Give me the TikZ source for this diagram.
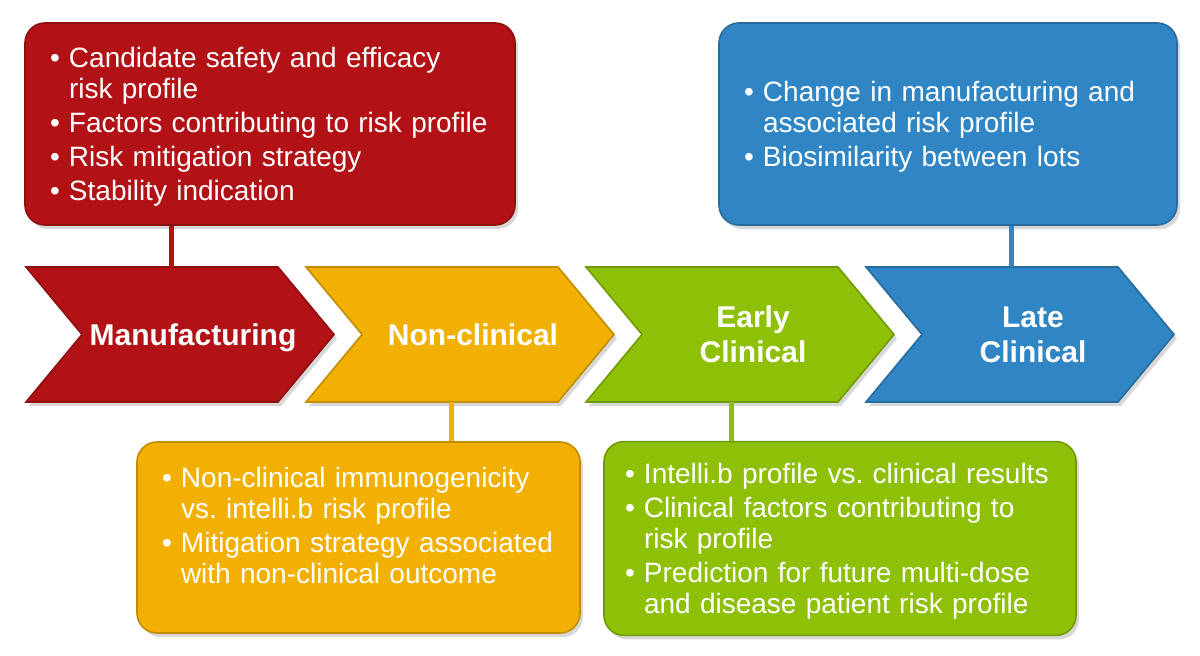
\documentclass[tikz,border=0pt]{standalone}
\usepackage{fontspec}
\setmainfont{Liberation Sans}
\usetikzlibrary{shadows}
\definecolor{mfgred}{RGB}{178,18,22}
\definecolor{ncyellow}{RGB}{241,176,2}
\definecolor{ecgreen}{RGB}{142,192,8}
\definecolor{lcblue}{RGB}{48,134,196}
\newcommand{\bulitem}[1]{\par\raggedright\frenchspacing\hyphenpenalty=10000\hangindent=9.5pt\hangafter=1\noindent\makebox[9.5pt][l]{\textbullet}#1\par}

\begin{document}
\begin{tikzpicture}[x=0.5pt,y=0.5pt,
  soft shadow/.style={drop shadow={shadow xshift=1.5pt,shadow yshift=-2pt,opacity=0.3}},
  chevron/.style={line width=0.8pt,draw=#1!80!black,fill=#1,soft shadow},
  stagelabel/.style={text=white,align=center,text depth=0pt,font=\fontsize{15}{17.5}\selectfont\bfseries},
  infobox/.style={rectangle,rounded corners=10pt,line width=0.8pt,draw=#1!80!black,fill=#1,
    soft shadow,text=white,align=left,inner xsep=12.5pt,inner ysep=4pt,
    font=\fontsize{14}{15.5}\selectfont\setlength{\parskip}{1.5pt}},
  link/.style={line width=2.5pt,draw=#1}]
  \useasboundingbox[fill=white] (0,0) rectangle (1200,655);
  \foreach \s/\col/\nm/\txt in {26/mfgred/mfg/Manufacturing, 306/ncyellow/nonclin/Non-clinical,
      586/ecgreen/early/{Early\\Clinical}, 866/lcblue/late/{Late\\Clinical}} {
    \draw[chevron=\col] (\s,388) -- ++(252,0) -- ++(56,-67.5) -- ++(-56,-67.5) -- ++(-252,0) -- ++(56,67.5) -- cycle;
    \node[stagelabel] (\nm) at (\s+167,320.5) {\txt};
    \coordinate (\nm-top) at (\s+145,388);
    \coordinate (\nm-bot) at (\s+145,253);
  }
  \node[infobox=mfgred,text width=220pt,minimum height=101pt] (mfgbox) at (270,531) {%
    \bulitem{Candidate safety and efficacy\newline risk profile}
    \bulitem{Factors contributing to risk profile}
    \bulitem{Risk mitigation strategy}
    \bulitem{Stability indication}\vspace{4pt}};
  \node[infobox=lcblue,text width=204pt,minimum height=101pt] (latebox) at (948,531) {%
    \bulitem{Change in manufacturing and\newline associated risk profile}
    \bulitem{Biosimilarity between lots}\vspace{4pt}};
  \node[infobox=ncyellow,text width=196.5pt,minimum height=95.5pt] (nonclinbox) at (358.5,117.5) {%
    \bulitem{Non-clinical immunogenicity\newline vs. intelli.b risk profile}
    \bulitem{Mitigation strategy associated\newline with non-clinical outcome}\vspace{19pt}};
  \node[infobox=ecgreen,inner xsep=10.5pt,text width=215pt,minimum height=96.5pt] (earlybox) at (840,116.5) {%
    \bulitem{Intelli.b profile vs. clinical results}
    \bulitem{Clinical factors contributing to\newline risk profile}
    \bulitem{Prediction for future multi-dose\newline and disease patient risk profile}\vspace{4pt}};
  % stems between boxes and stages
  \draw[link=mfgred] (mfgbox.south -| mfg-top) -- (mfg-top);
  \draw[link=lcblue] (latebox.south -| late-top) -- (late-top);
  \draw[link=ncyellow] (nonclin-bot) -- (nonclinbox.north -| nonclin-bot);
  \draw[link=ecgreen] (early-bot) -- (earlybox.north -| early-bot);
\end{tikzpicture}
\end{document}
